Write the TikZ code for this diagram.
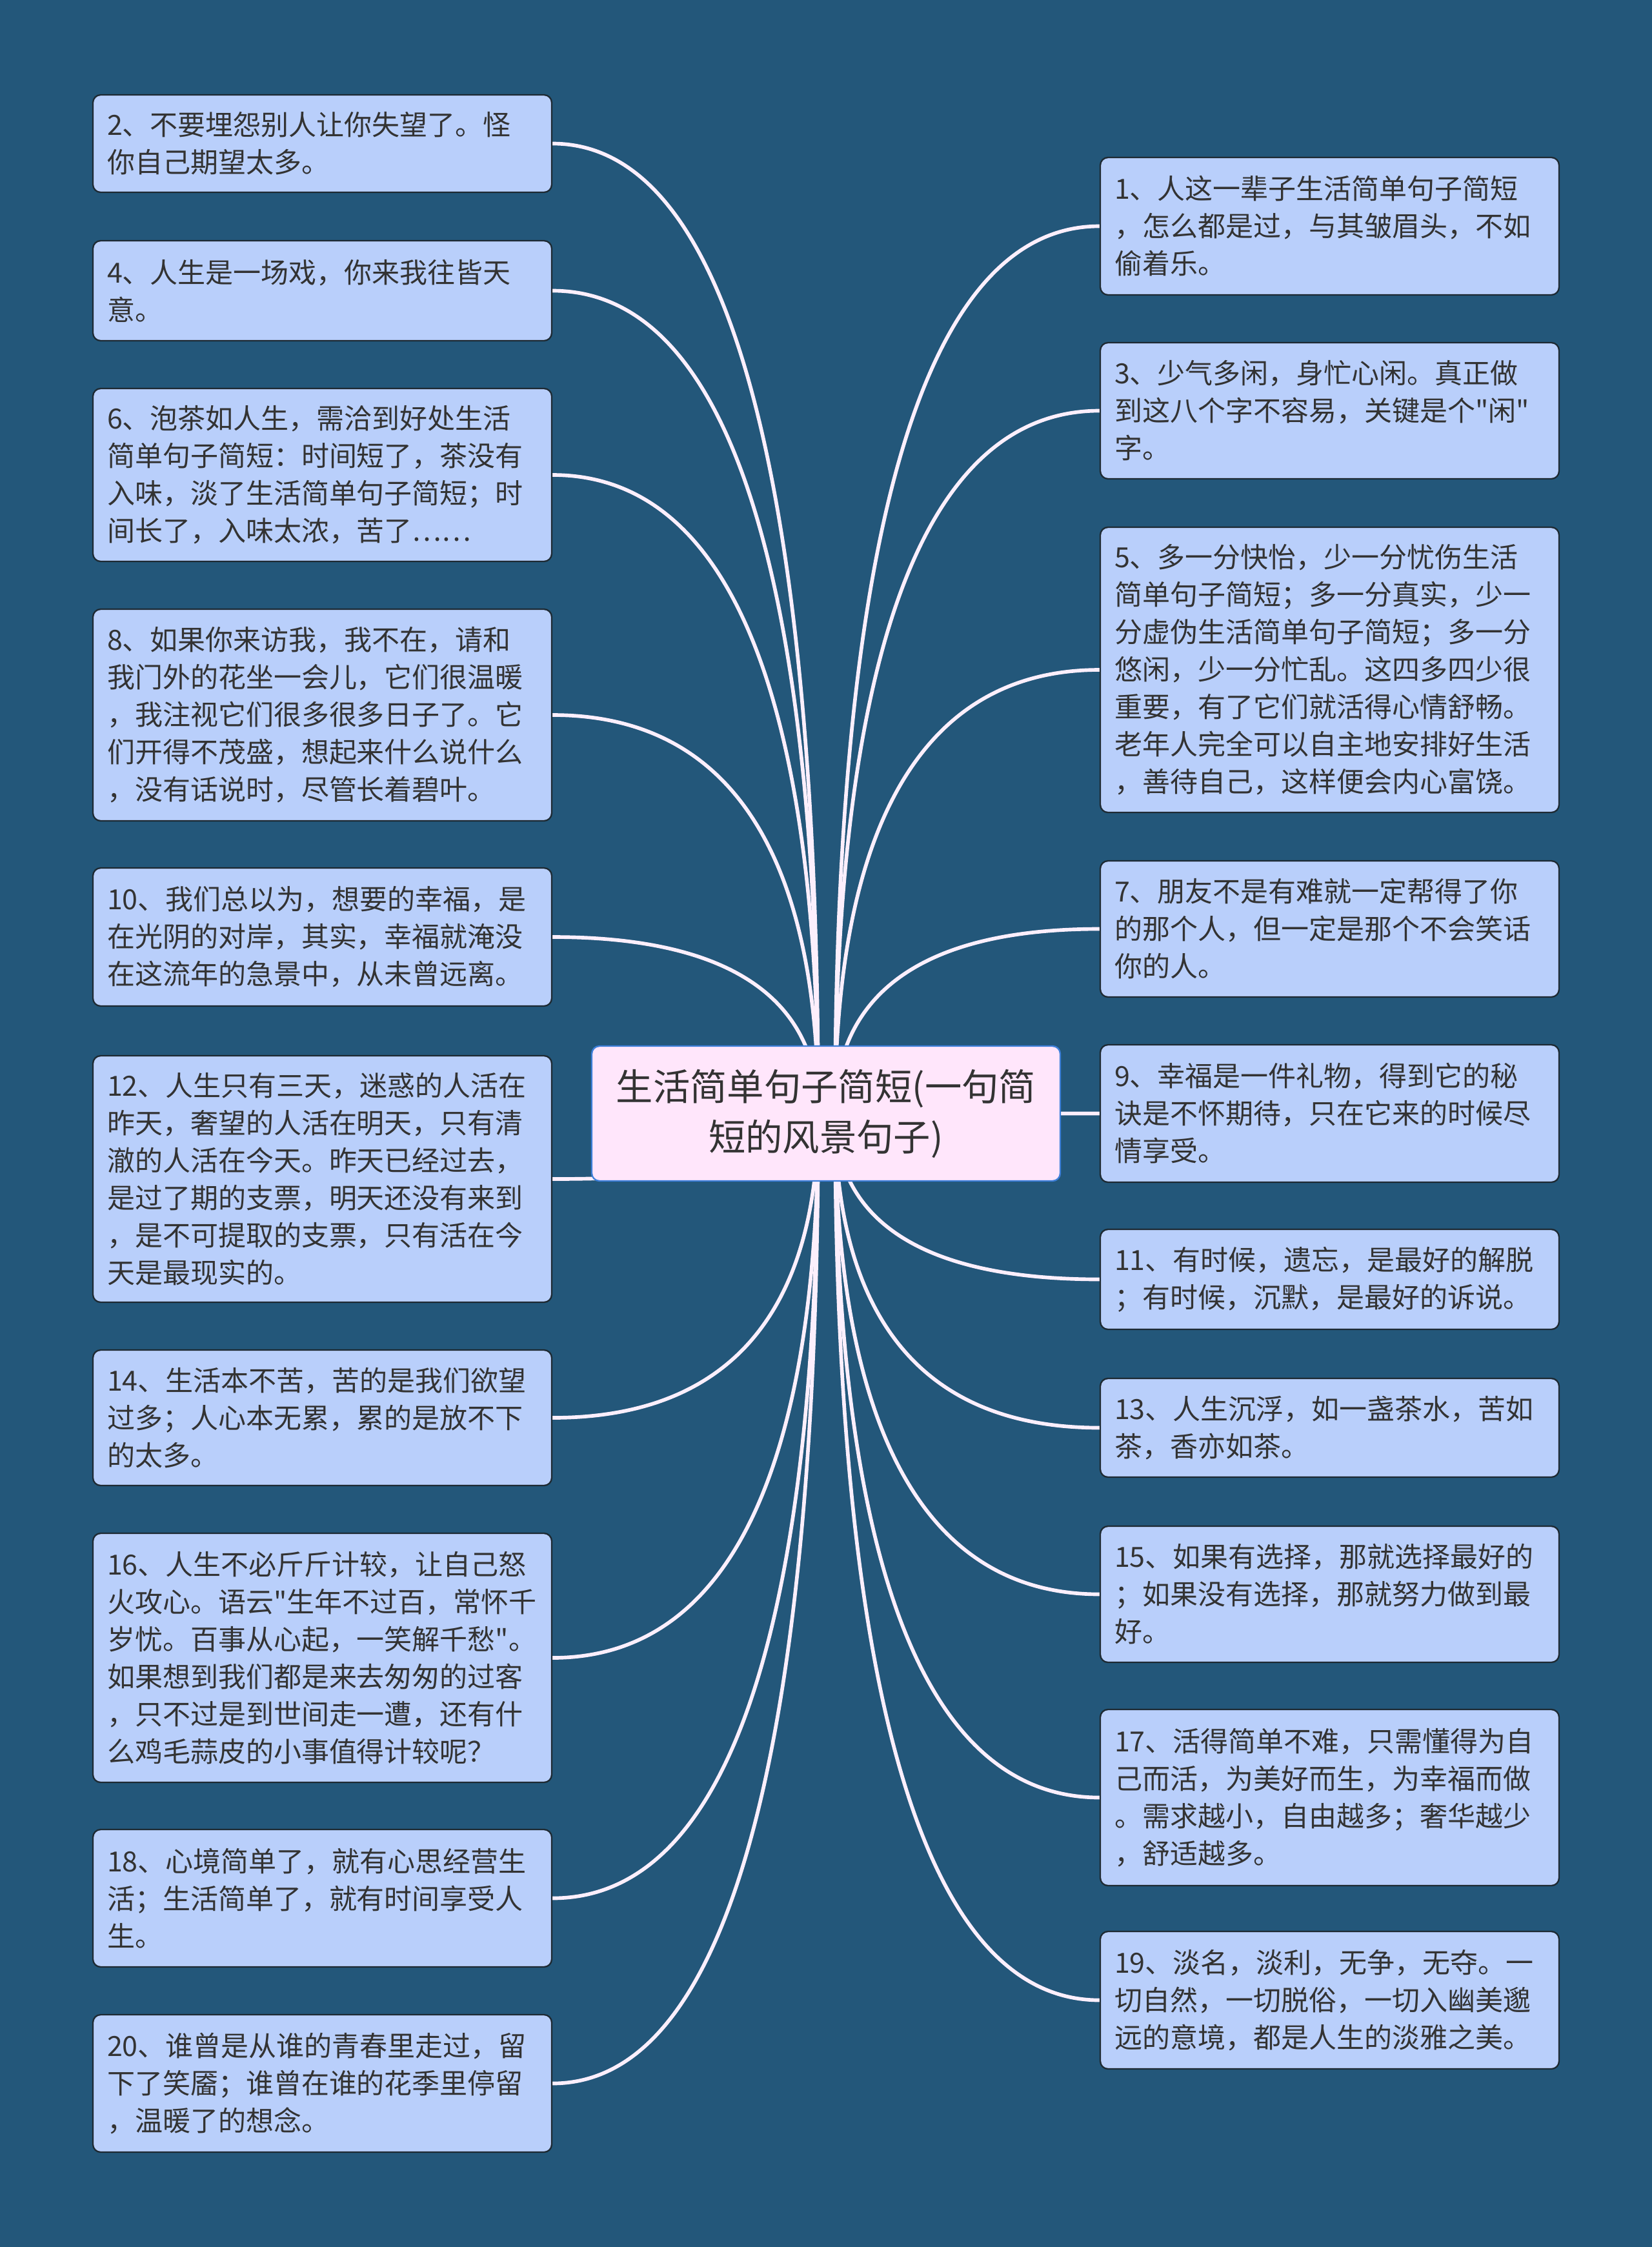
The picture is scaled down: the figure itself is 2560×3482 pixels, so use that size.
\documentclass[tikz,border=0pt]{standalone}
\usepackage{fontspec}
\newfontfamily\cjkfont{Noto Sans CJK SC}
\usetikzlibrary{calc}
\pgfdeclarelayer{bg}
\pgfsetlayers{bg,main}
\definecolor{bgc}{HTML}{23577A}
\definecolor{leaffill}{HTML}{B9CFFB}
\definecolor{leafline}{HTML}{1E2A33}
\definecolor{rootfill}{HTML}{FFE6FB}
\definecolor{rootline}{HTML}{3D7FD9}
\definecolor{linkc}{HTML}{FCEFFC}
\definecolor{txt}{HTML}{333333}
\tikzset{
  leaf/.style={draw=leafline, line width=0.7pt, fill=leaffill, rounded corners=3.6pt,
    text width=200.1pt, inner xsep=6.6pt, inner ysep=0pt, minimum width=213.3pt,
    align=left, text=txt, font=\cjkfont\fontsize{12.9pt}{17.4pt}\selectfont},
  root/.style={draw=rootline, line width=0.7pt, fill=rootfill, rounded corners=3.6pt,
    text width=215pt, inner xsep=1.4pt, inner ysep=0pt, minimum width=217.8pt, minimum height=62.7pt,
    align=center, text=txt, font=\cjkfont\fontsize{17.2pt}{23.4pt}\selectfont},
  conn/.style={draw=linkc, line width=1.7pt}
}
\newcommand\leafL[4]{\node[leaf,minimum height=#3*0.3pt] (#1) at (499.5,#2) {#4};}
\newcommand\leafR[4]{\node[leaf,minimum height=#3*0.3pt] (#1) at (2060.5,#2) {#4};}
\newcommand\linkL[1]{\draw[conn] (cl) .. controls ($(cl)!0.5!(cl|-#1.east)$) and ($(#1.east)!0.8!(cl|-#1.east)$) .. (#1.east);}
\newcommand\linkR[1]{\draw[conn] (cr) .. controls ($(cr)!0.5!(cr|-#1.west)$) and ($(#1.west)!0.8!(cr|-#1.west)$) .. (#1.west);}
\begin{document}
\begin{tikzpicture}[x=0.3pt,y=-0.3pt]
\useasboundingbox (0,0) rectangle (2560,3482);
\begin{pgfonlayer}{bg}
\fill[bgc] (0,0) rectangle (2560,3482);
\end{pgfonlayer}

\node[root] (root) at (1280,1725.5) {生活简单句子简短(一句简\\短的风景句子)};
\coordinate (cl) at (1268,1725);
\coordinate (cr) at (1294,1725);

\leafL{b2}{222.5}{151}{2、不要埋怨别人让你失望了。怪\\你自己期望太多。}
\leafL{b4}{450.5}{155}{4、人生是一场戏，你来我往皆天\\意。}
\leafL{b6}{736}{268}{6、泡茶如人生，需洽到好处生活\\简单句子简短：时间短了，茶没有\\入味，淡了生活简单句子简短；时\\间长了，入味太浓，苦了……}
\leafL{b8}{1108}{328}{8、如果你来访我，我不在，请和\\我门外的花坐一会儿，它们很温暖\\，我注视它们很多很多日子了。它\\们开得不茂盛，想起来什么说什么\\，没有话说时，尽管长着碧叶。}
\leafL{b10}{1452}{214}{10、我们总以为，想要的幸福，是\\在光阴的对岸，其实，幸福就淹没\\在这流年的急景中，从未曾远离。}
\leafL{b12}{1827}{382}{12、人生只有三天，迷惑的人活在\\昨天，奢望的人活在明天，只有清\\澈的人活在今天。昨天已经过去，\\是过了期的支票，明天还没有来到\\，是不可提取的支票，只有活在今\\天是最现实的。}
\leafL{b14}{2197}{210}{14、生活本不苦，苦的是我们欲望\\过多；人心本无累，累的是放不下\\的太多。}
\leafL{b16}{2569}{386}{16、人生不必斤斤计较，让自己怒\\火攻心。语云"生年不过百，常怀千\\岁忧。百事从心起，一笑解千愁"。\\如果想到我们都是来去匆匆的过客\\，只不过是到世间走一遭，还有什\\么鸡毛蒜皮的小事值得计较呢？}
\leafL{b18}{2941.5}{213}{18、心境简单了，就有心思经营生\\活；生活简单了，就有时间享受人\\生。}
\leafL{b20}{3228.5}{213}{20、谁曾是从谁的青春里走过，留\\下了笑靥；谁曾在谁的花季里停留\\，温暖了的想念。}

\leafR{b1}{350.5}{213}{1、人这一辈子生活简单句子简短\\，怎么都是过，与其皱眉头，不如\\偷着乐。}
\leafR{b3}{636.5}{211}{3、少气多闲，身忙心闲。真正做\\到这八个字不容易，关键是个"闲"\\字。}
\leafR{b5}{1038}{442}{5、多一分快怡，少一分忧伤生活\\简单句子简短；多一分真实，少一\\分虚伪生活简单句子简短；多一分\\悠闲，少一分忙乱。这四多四少很\\重要，有了它们就活得心情舒畅。\\老年人完全可以自主地安排好生活\\，善待自己，这样便会内心富饶。}
\leafR{b7}{1439.5}{211}{7、朋友不是有难就一定帮得了你\\的那个人，但一定是那个不会笑话\\你的人。}
\leafR{b9}{1725.5}{213}{9、幸福是一件礼物，得到它的秘\\诀是不怀期待，只在它来的时候尽\\情享受。}
\leafR{b11}{1982.5}{155}{11、有时候，遗忘，是最好的解脱\\；有时候，沉默，是最好的诉说。}
\leafR{b13}{2212.5}{153}{13、人生沉浮，如一盏茶水，苦如\\茶，香亦如茶。}
\leafR{b15}{2470.5}{211}{15、如果有选择，那就选择最好的\\；如果没有选择，那就努力做到最\\好。}
\leafR{b17}{2785.5}{273}{17、活得简单不难，只需懂得为自\\己而活，为美好而生，为幸福而做\\。需求越小，自由越多；奢华越少\\，舒适越多。}
\leafR{b19}{3099.5}{213}{19、淡名，淡利，无争，无夺。一\\切自然，一切脱俗，一切入幽美邈\\远的意境，都是人生的淡雅之美。}

\begin{pgfonlayer}{bg}
\linkL{b2}\linkL{b4}\linkL{b6}\linkL{b8}\linkL{b10}
\linkL{b12}\linkL{b14}\linkL{b16}\linkL{b18}\linkL{b20}
\linkR{b1}\linkR{b3}\linkR{b5}\linkR{b7}\linkR{b9}
\linkR{b11}\linkR{b13}\linkR{b15}\linkR{b17}\linkR{b19}
\end{pgfonlayer}
\end{tikzpicture}
\end{document}
